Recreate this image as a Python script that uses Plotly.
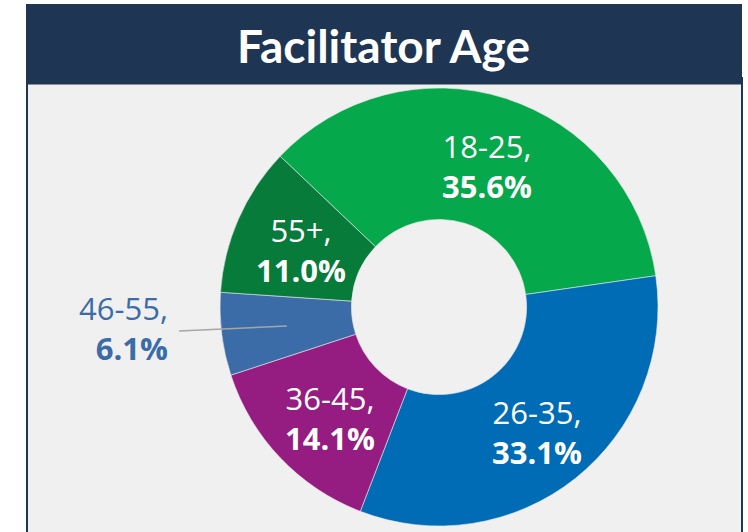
import math
import plotly.graph_objects as go

# ---- data ----
age_groups = ["18-25", "26-35", "36-45", "46-55", "55+"]
shares = [35.6, 33.1, 14.1, 6.1, 11.0]
slice_colors = ["#05a84b", "#006cb6", "#951c80", "#3b6ca8", "#077b39"]
label_colors = ["#ffffff", "#ffffff", "#ffffff", "#3b6ca8", "#ffffff"]
outside = [False, False, False, True, False]
title_text = "Facilitator Age"

W, H = 748, 532
NAVY = "#1e3553"
PANEL = "#f0f0f0"

# pie geometry (pixels)
CX, CY, R = 439, 307, 219
HOLE = 0.4
ROT = -46.5


def px(x):
    return x / W


def py(y):
    return 1 - y / H


fig = go.Figure()

fig.add_trace(go.Pie(
    labels=age_groups,
    values=shares,
    hole=HOLE,
    sort=False,
    direction="clockwise",
    rotation=ROT,
    marker=dict(colors=slice_colors, line=dict(color="#e8e8e8", width=0.6)),
    textinfo="none",
    hoverinfo="label+percent",
    showlegend=False,
    domain=dict(x=[px(CX - R), px(CX + R)], y=[py(CY + R), py(CY - R)]),
))

# background shapes: panel and header
shapes = [
    dict(type="rect", xref="paper", yref="paper",
         x0=px(27), x1=px(742), y0=py(533), y1=py(78),
         fillcolor=PANEL, line=dict(color=NAVY, width=2), layer="below"),
    dict(type="rect", xref="paper", yref="paper",
         x0=px(26), x1=px(742), y0=py(84.5), y1=py(4),
         fillcolor=NAVY, line=dict(width=0), layer="below"),
]

annotations = [
    dict(text="<b>" + title_text + "</b>", xref="paper", yref="paper",
         x=px(383), y=py(45), xanchor="center", yanchor="middle",
         showarrow=False, font=dict(family="Lato", size=46, color="#ffffff")),
]

total = sum(shares)
start = ROT
rmid = R * (1 + HOLE) / 2
for grp, val, lc, out in zip(age_groups, shares, label_colors, outside):
    span = val / total * 360
    mid = math.radians(start + span / 2)
    start += span
    mx = CX + rmid * math.sin(mid)
    my = CY - rmid * math.cos(mid)
    txt = f"{grp},<br><b>{val:.1f}%</b>"
    if not out:
        annotations.append(dict(
            text=txt, xref="paper", yref="paper", x=px(mx + 2), y=py(my + 5),
            xanchor="center", yanchor="middle", align="center", showarrow=False,
            font=dict(family="Open Sans", size=31, color=lc)))
    else:
        lx = 170
        ly = my + 2
        shapes.append(dict(type="line", xref="paper", yref="paper",
                           x0=px(mx), y0=py(my), x1=px(lx + 9), y1=py(ly + 3),
                           line=dict(color="#a6a6a6", width=1.6)))
        annotations.append(dict(
            text=txt, xref="paper", yref="paper", x=px(lx), y=py(ly),
            xanchor="right", yanchor="middle", align="right", showarrow=False,
            font=dict(family="Open Sans", size=31, color=lc)))

fig.update_layout(
    width=W, height=H,
    margin=dict(l=0, r=0, t=0, b=0),
    paper_bgcolor="#ffffff",
    plot_bgcolor="#ffffff",
    shapes=shapes,
    annotations=annotations,
)

fig.write_html("out.html",
               config={"displayModeBar": False},
               post_script="document.body.style.margin='0';document.body.style.padding='0';")
